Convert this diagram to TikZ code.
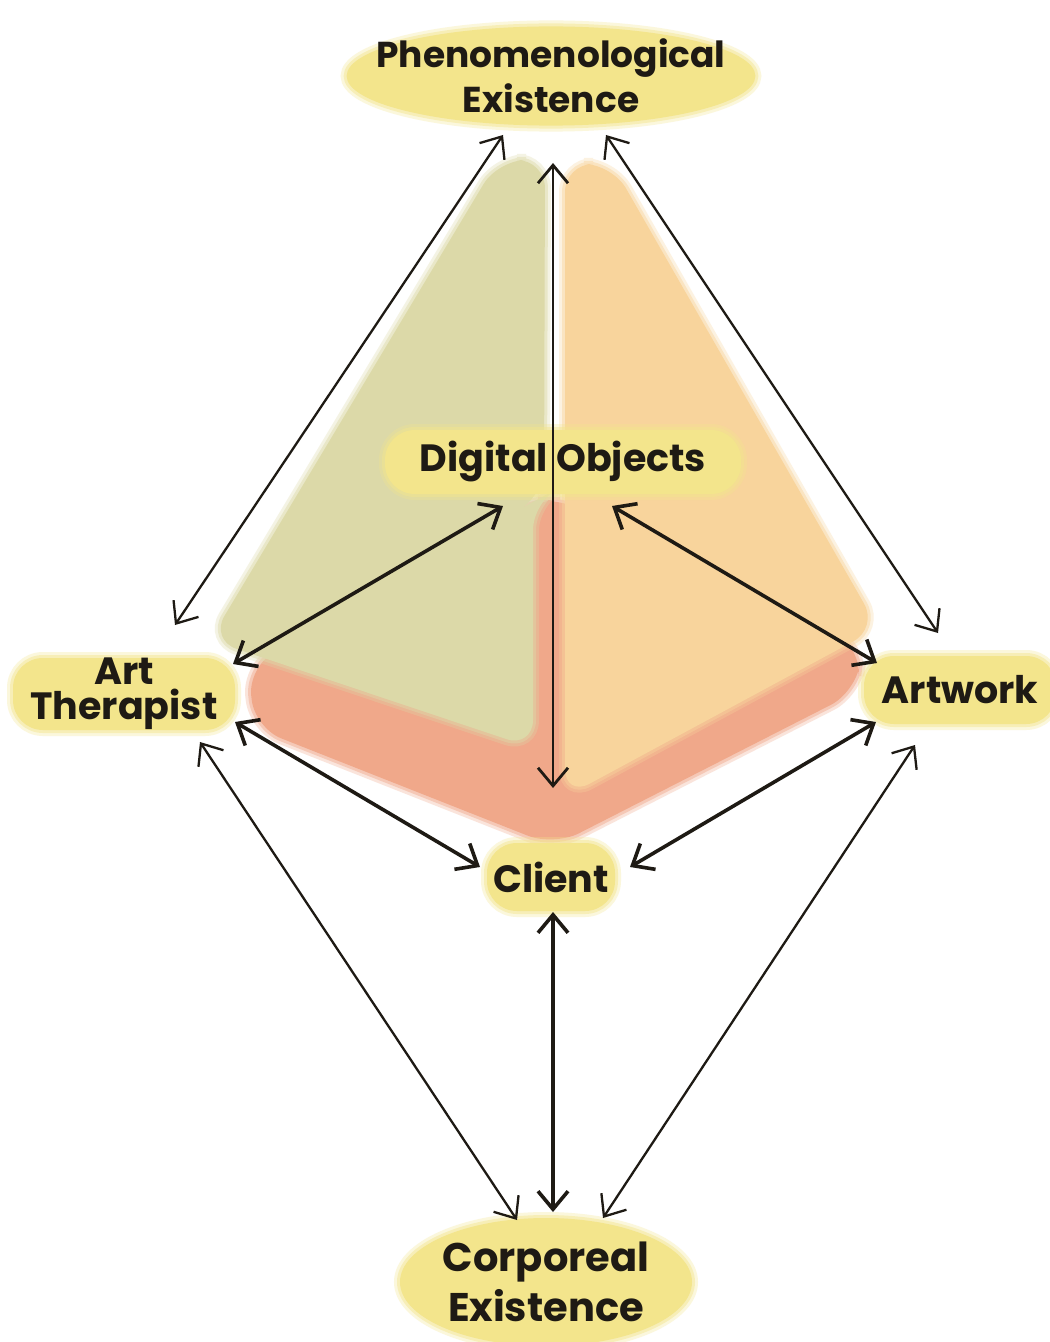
\documentclass[tikz,border=0pt]{standalone}
\usepackage{fontspec}
\setmainfont{Poppins}
\usetikzlibrary{arrows.meta,shapes.geometric}
\definecolor{yel}{HTML}{F3E58C}
\definecolor{grn}{HTML}{DCD9A8}
\definecolor{org}{HTML}{F8D49C}
\definecolor{redd}{HTML}{F0A88A}
\definecolor{ink}{HTML}{1E1A14}
\begin{document}
\begin{tikzpicture}[x=0.5pt,y=-0.5pt,
  lbl/.style={text=ink, font=\bfseries\fontsize{19}{22.5}\selectfont, align=center, inner sep=0pt},
  glow/.style={preaction={draw=#1, line width=6pt, opacity=0.3}, preaction={draw=#1, line width=3pt, opacity=0.45}},
  pill/.style={lbl, fill=yel, glow=yel, rounded corners=15pt},
  oval/.style={lbl, ellipse, fill=yel, glow=yel},
  softfill/.style={fill=#1, glow=#1, rounded corners=14pt},
  dbl/.style={{Straight Barb[length=9pt,width=15pt]}-{Straight Barb[length=9pt,width=15pt]}, draw=ink, line width=1.15pt, line cap=round, line join=round},
  dblb/.style={dbl, line width=1.8pt}]
\useasboundingbox (0,0) rectangle (1049,1342);
\fill[white] (0,0) rectangle (1049,1342);
% background regions
\path[softfill=redd] (248,668) -- (532,500) -- (566,500) -- (862,648) -- (856,692) -- (554,846) -- (255,728) -- cycle;
\path[softfill=grn] (498,160) -- (545,160) -- (544,496) -- (533,502) -- (533,748) -- (210,640) -- cycle;
\path[softfill=org] (565,164) -- (612,164) -- (878,628) -- (565,797) -- cycle;
% labels
\node[oval, inner xsep=-15pt, inner ysep=-1pt, font=\bfseries\fontsize{18}{22.5}\selectfont] (phen) at (551,76) {Phenomenological\\Existence};
\node[pill, minimum width=178pt, minimum height=32pt] (dig) at (563,462) {Digital Objects};
\node[pill, minimum width=111pt, minimum height=36pt, font=\bfseries\fontsize{19}{17.5}\selectfont] (art) at (124,694) {Art\\Therapist};
\node[pill, minimum width=96pt, minimum height=34pt] (work) at (960,690) {Artwork};
\node[pill, minimum width=64pt, minimum height=34pt] (client) at (551,877) {Client};
\node[oval, minimum width=146pt, minimum height=64pt, font=\bfseries\fontsize{20}{25}\selectfont] (corp) at (546,1282) {Corporeal\\Existence};
% connector end points
\coordinate (p1) at (503,135); \coordinate (a1) at (175,625);
\coordinate (p2) at (606,135); \coordinate (w1) at (938,633);
\coordinate (p3) at (553,163); \coordinate (c0) at (553,788);
\coordinate (d1) at (503,506); \coordinate (a2) at (233,664);
\coordinate (d2) at (612,506); \coordinate (w2) at (877,663);
\coordinate (a3) at (235,722); \coordinate (c1) at (480,867);
\coordinate (w3) at (876,722); \coordinate (c2) at (630,867);
\coordinate (a4) at (200,742); \coordinate (k1) at (517,1220);
\coordinate (c3) at (553,912); \coordinate (k2) at (553,1212);
\coordinate (w4) at (915,745); \coordinate (k3) at (603,1218);
% connectors
\draw[dbl] (p1) -- (a1);
\draw[dbl] (p2) -- (w1);
\draw[dbl, line width=1.4pt] (p3) -- (c0);
\draw[dblb] (d1) -- (a2);
\draw[dblb] (d2) -- (w2);
\draw[dblb] (a3) -- (c1);
\draw[dblb] (w3) -- (c2);
\draw[dbl] (a4) -- (k1);
\draw[dblb] (c3) -- (k2);
\draw[dbl] (w4) -- (k3);
\end{tikzpicture}
\end{document}
